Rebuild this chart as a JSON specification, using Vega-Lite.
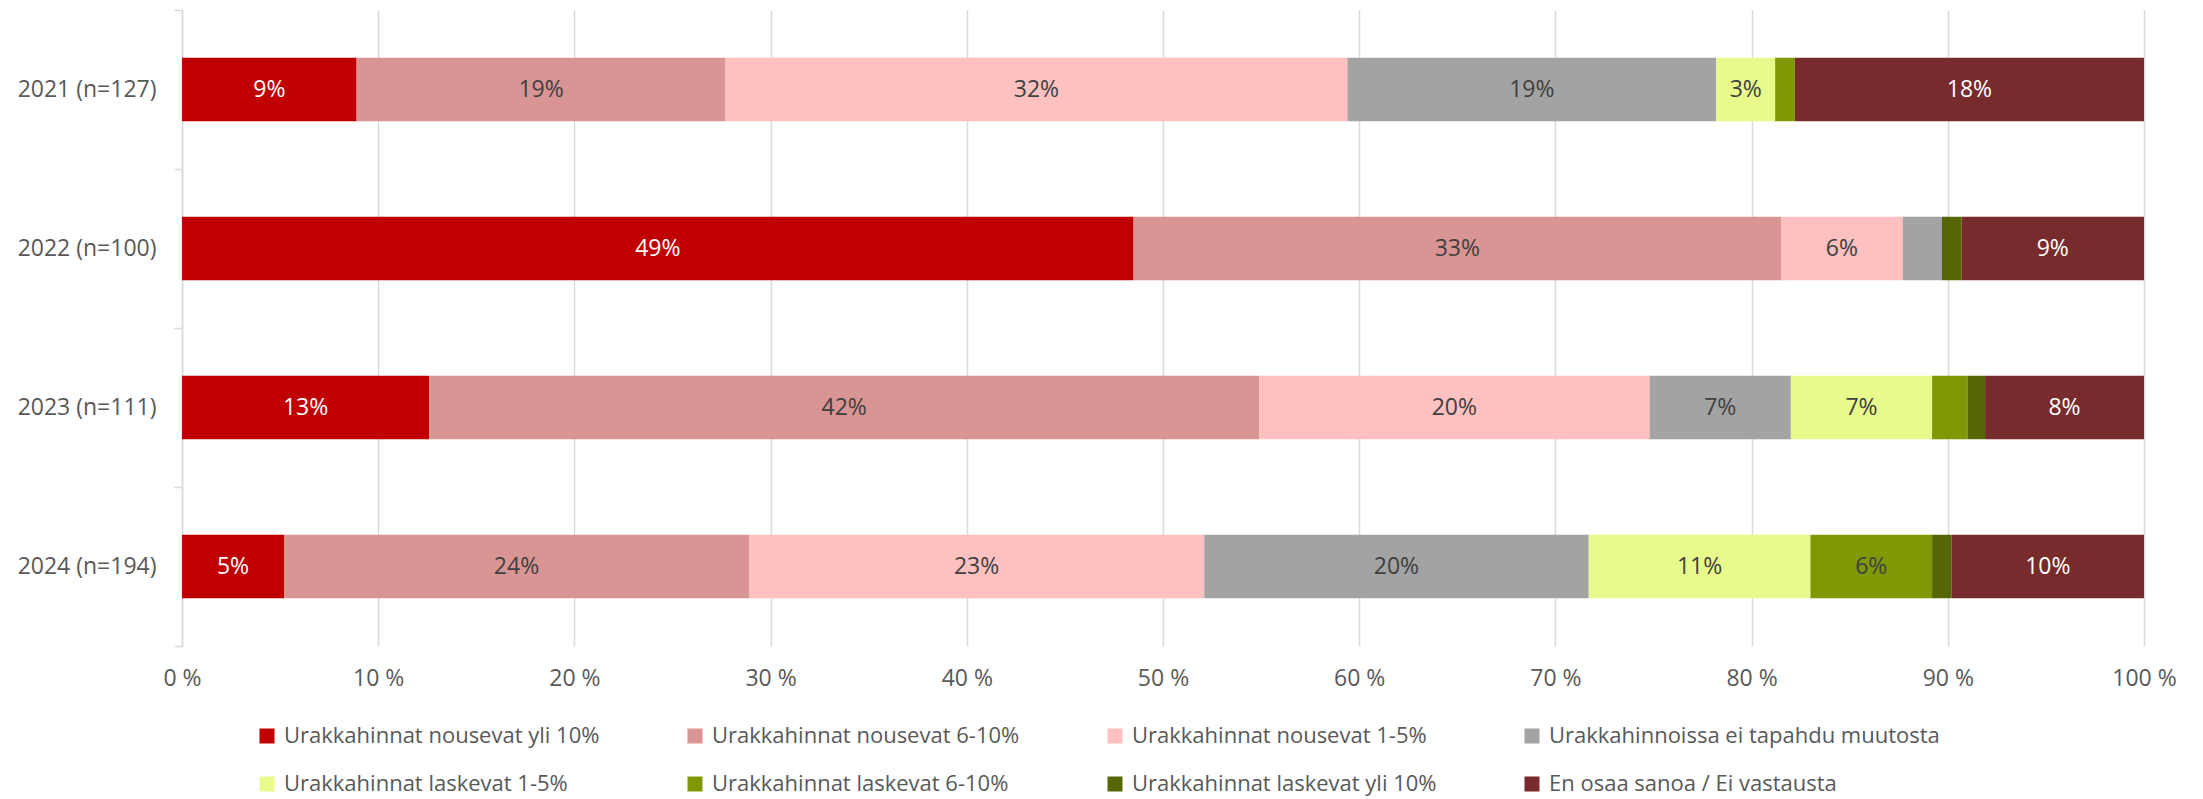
{
  "$schema": "https://vega.github.io/schema/vega-lite/v6.json",
  "width": 1962,
  "height": 636,
  "autosize": {"type": "none"},
  "padding": {"left": 182, "top": 10, "right": 59, "bottom": 153},
  "background": "white",
  "config": {
    "view": {"stroke": null},
    "font": "Open Sans",
    "axis": {"labelFont": "Open Sans", "labelColor": "#595959", "labelFontSize": 23},
    "legend": {"labelFont": "Open Sans", "labelColor": "#595959", "labelFontSize": 22}
  },
  "data": {
    "values": [
      {"year": "2021 (n=127)", "k": 1, "cat": "Urakkahinnat nousevat yli 10%", "value": 8.9, "label": "9%"},
      {"year": "2021 (n=127)", "k": 2, "cat": "Urakkahinnat nousevat 6-10%", "value": 18.8, "label": "19%"},
      {"year": "2021 (n=127)", "k": 3, "cat": "Urakkahinnat nousevat 1-5%", "value": 31.7, "label": "32%"},
      {"year": "2021 (n=127)", "k": 4, "cat": "Urakkahinnoissa ei tapahdu muutosta", "value": 18.8, "label": "19%"},
      {"year": "2021 (n=127)", "k": 5, "cat": "Urakkahinnat laskevat 1-5%", "value": 3.0, "label": "3%"},
      {"year": "2021 (n=127)", "k": 6, "cat": "Urakkahinnat laskevat 6-10%", "value": 1.0, "label": ""},
      {"year": "2021 (n=127)", "k": 7, "cat": "Urakkahinnat laskevat yli 10%", "value": 0, "label": ""},
      {"year": "2021 (n=127)", "k": 8, "cat": "En osaa sanoa / Ei vastausta", "value": 17.8, "label": "18%"},
      {"year": "2022 (n=100)", "k": 1, "cat": "Urakkahinnat nousevat yli 10%", "value": 48.5, "label": "49%"},
      {"year": "2022 (n=100)", "k": 2, "cat": "Urakkahinnat nousevat 6-10%", "value": 33.0, "label": "33%"},
      {"year": "2022 (n=100)", "k": 3, "cat": "Urakkahinnat nousevat 1-5%", "value": 6.2, "label": "6%"},
      {"year": "2022 (n=100)", "k": 4, "cat": "Urakkahinnoissa ei tapahdu muutosta", "value": 2.0, "label": ""},
      {"year": "2022 (n=100)", "k": 5, "cat": "Urakkahinnat laskevat 1-5%", "value": 0, "label": ""},
      {"year": "2022 (n=100)", "k": 6, "cat": "Urakkahinnat laskevat 6-10%", "value": 0, "label": ""},
      {"year": "2022 (n=100)", "k": 7, "cat": "Urakkahinnat laskevat yli 10%", "value": 1.0, "label": ""},
      {"year": "2022 (n=100)", "k": 8, "cat": "En osaa sanoa / Ei vastausta", "value": 9.3, "label": "9%"},
      {"year": "2023 (n=111)", "k": 1, "cat": "Urakkahinnat nousevat yli 10%", "value": 12.6, "label": "13%"},
      {"year": "2023 (n=111)", "k": 2, "cat": "Urakkahinnat nousevat 6-10%", "value": 42.3, "label": "42%"},
      {"year": "2023 (n=111)", "k": 3, "cat": "Urakkahinnat nousevat 1-5%", "value": 19.9, "label": "20%"},
      {"year": "2023 (n=111)", "k": 4, "cat": "Urakkahinnoissa ei tapahdu muutosta", "value": 7.2, "label": "7%"},
      {"year": "2023 (n=111)", "k": 5, "cat": "Urakkahinnat laskevat 1-5%", "value": 7.2, "label": "7%"},
      {"year": "2023 (n=111)", "k": 6, "cat": "Urakkahinnat laskevat 6-10%", "value": 1.8, "label": ""},
      {"year": "2023 (n=111)", "k": 7, "cat": "Urakkahinnat laskevat yli 10%", "value": 0.9, "label": ""},
      {"year": "2023 (n=111)", "k": 8, "cat": "En osaa sanoa / Ei vastausta", "value": 8.1, "label": "8%"},
      {"year": "2024 (n=194)", "k": 1, "cat": "Urakkahinnat nousevat yli 10%", "value": 5.2, "label": "5%"},
      {"year": "2024 (n=194)", "k": 2, "cat": "Urakkahinnat nousevat 6-10%", "value": 23.7, "label": "24%"},
      {"year": "2024 (n=194)", "k": 3, "cat": "Urakkahinnat nousevat 1-5%", "value": 23.2, "label": "23%"},
      {"year": "2024 (n=194)", "k": 4, "cat": "Urakkahinnoissa ei tapahdu muutosta", "value": 19.6, "label": "20%"},
      {"year": "2024 (n=194)", "k": 5, "cat": "Urakkahinnat laskevat 1-5%", "value": 11.3, "label": "11%"},
      {"year": "2024 (n=194)", "k": 6, "cat": "Urakkahinnat laskevat 6-10%", "value": 6.2, "label": "6%"},
      {"year": "2024 (n=194)", "k": 7, "cat": "Urakkahinnat laskevat yli 10%", "value": 1.0, "label": ""},
      {"year": "2024 (n=194)", "k": 8, "cat": "En osaa sanoa / Ei vastausta", "value": 9.8, "label": "10%"}
    ]
  },
  "transform": [
    {"stack": "value", "groupby": ["year"], "sort": [{"field": "k", "order": "ascending"}], "as": ["v0", "v1"]},
    {"calculate": "(datum.v0 + datum.v1) / 2", "as": "mid"}
  ],
  "encoding": {
    "y": {
      "field": "year",
      "type": "nominal",
      "scale": {"paddingInner": 0.6, "paddingOuter": 0.3},
      "axis": {
        "title": null,
        "domain": true,
        "domainColor": "#D9D9D9",
        "domainWidth": 1.5,
        "ticks": true,
        "tickColor": "#D9D9D9",
        "tickWidth": 1.5,
        "tickSize": 8,
        "bandPosition": 2.5,
        "tickOffset": -47.7,
        "labelOffset": 47.7,
        "tickExtra": true,
        "labelPadding": 18,
        "grid": false
      }
    }
  },
  "layer": [
    {
      "mark": {"type": "bar"},
      "encoding": {
        "x": {
          "field": "v0",
          "type": "quantitative",
          "scale": {"domain": [0, 100], "nice": false},
          "axis": {
            "title": null,
            "values": [0, 10, 20, 30, 40, 50, 60, 70, 80, 90, 100],
            "labelExpr": "datum.value + ' %'",
            "labelFlush": false,
            "domain": false,
            "ticks": false,
            "grid": true,
            "gridColor": "#D9D9D9",
            "gridWidth": 1.5,
            "labelPadding": 21
          }
        },
        "x2": {"field": "v1"},
        "color": {
          "field": "cat",
          "type": "nominal",
          "scale": {
            "domain": [
              "Urakkahinnat nousevat yli 10%",
              "Urakkahinnat nousevat 6-10%",
              "Urakkahinnat nousevat 1-5%",
              "Urakkahinnoissa ei tapahdu muutosta",
              "Urakkahinnat laskevat 1-5%",
              "Urakkahinnat laskevat 6-10%",
              "Urakkahinnat laskevat yli 10%",
              "En osaa sanoa / Ei vastausta"
            ],
            "range": ["#C00000", "#D99594", "#FFC1C0", "#A3A3A3", "#E9FA8C", "#7F9905", "#556705", "#772B2C"]
          },
          "legend": {
            "title": null,
            "orient": "none",
            "legendX": 74,
            "legendY": 715,
            "direction": "horizontal",
            "columns": 4,
            "columnPadding": 84,
            "rowPadding": 26,
            "symbolType": "square",
            "symbolSize": 225,
            "symbolStrokeWidth": 0,
            "labelOffset": 6,
            "labelLimit": 600,
            "padding": 0
          }
        }
      }
    },
    {
      "transform": [{"filter": "datum.label !== ''"}],
      "mark": {"type": "text", "align": "center", "baseline": "middle", "fontSize": 23},
      "encoding": {
        "x": {"field": "mid", "type": "quantitative"},
        "text": {"field": "label"},
        "color": {
          "condition": {
            "test": "datum.cat === 'Urakkahinnat nousevat yli 10%' || datum.cat === 'En osaa sanoa / Ei vastausta'",
            "value": "#FFFFFF"
          },
          "value": "#404040"
        }
      }
    }
  ]
}
